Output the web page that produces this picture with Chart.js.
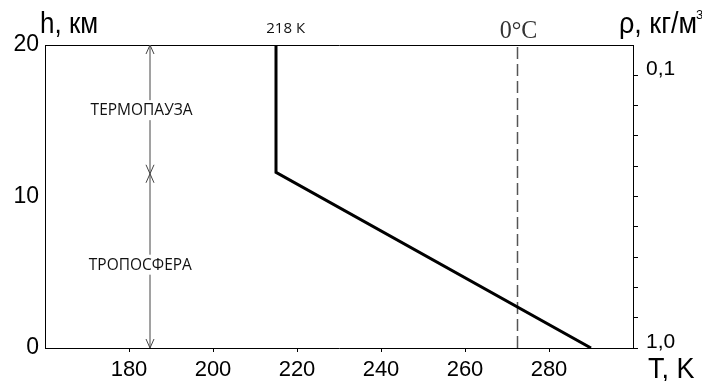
<!DOCTYPE html>
<html>
<head>
<meta charset="utf-8">
<script src="https://cdn.jsdelivr.net/npm/chart.js@4.4.0/dist/chart.umd.min.js"></script>
<style>
  html, body { margin: 0; padding: 0; background: #fff; }
  #wrap { width: 702px; height: 381px; }
</style>
</head>
<body>
<div id="wrap"><canvas id="chart" width="702" height="381"></canvas></div>
<script>
// temperature profile
const tempK = [290, 215, 215];
const tempKm = [0, 11.6, 20];
// 0 °C line
const freezeK = [272.5, 272.5];
const freezeKm = [0, 20];
// layer arrow
const layerK = [185, 185, 185];
const layerKm = [0, 11.5, 20];
const layerNames = ['ТРОПОСФЕРА', 'ТЕРМОПАУЗА'];
// ticks
const xTicks = [180, 200, 220, 240, 260, 280];
const hTicks = [0, 10, 20];
const rhoTickKm = [0, 2, 4, 6, 8, 10, 12, 14, 16, 18];
const rhoLabels = ['1,0', '', '', '', '', '', '', '', '', '0,1'];

const FONT = "'Liberation Sans', Arial, sans-serif";

function pts(xs, ys) {
  return xs.map((x, i) => ({ x: x, y: ys[i] }));
}

function arrowHead(ctx, x, y, dir) {
  // dir = -1 points up, 1 points down
  ctx.beginPath();
  ctx.moveTo(x - 4, y - dir * 9);
  ctx.lineTo(x, y);
  ctx.lineTo(x + 4, y - dir * 9);
  ctx.stroke();
}

// text a bit taller than wide, like the scanned figure
function tallText(ctx, txt, x, y, sy) {
  ctx.save();
  ctx.translate(x, y);
  ctx.scale(1, sy);
  ctx.fillText(txt, 0, 0);
  ctx.restore();
}

const extras = {
  id: 'extras',
  afterDatasetsDraw(chart) {
    const ctx = chart.ctx;
    const xs = chart.scales.x, ys = chart.scales.y;
    const a = chart.chartArea;
    ctx.save();

    // arrow heads on the layer line
    ctx.strokeStyle = '#444';
    ctx.lineWidth = 1;
    const ax = xs.getPixelForValue(layerK[0]);
    const y0 = ys.getPixelForValue(layerKm[0]);
    const y1 = ys.getPixelForValue(layerKm[1]);
    const y2 = ys.getPixelForValue(layerKm[2]);
    arrowHead(ctx, ax, y0, 1);
    arrowHead(ctx, ax, y1, -1);
    arrowHead(ctx, ax, y1, 1);
    arrowHead(ctx, ax, y2, -1);

    // layer names
    ctx.font = "15.5px 'Open Sans', sans-serif";
    ctx.textAlign = 'center';
    ctx.textBaseline = 'middle';
    const names = [
      { t: layerNames[0], T: 182.7, h: 5.5 },
      { t: layerNames[1], T: 183, h: 15.7 }
    ];
    names.forEach(n => {
      const px = xs.getPixelForValue(n.T), py = ys.getPixelForValue(n.h);
      const w = ctx.measureText(n.t).width;
      ctx.fillStyle = '#fff';
      ctx.fillRect(px - w / 2 - 2, py - 10, w + 4, 20);
      ctx.fillStyle = '#111';
      tallText(ctx, n.t, px, py, 1.1);
    });

    // 218 K label
    ctx.font = "15px 'Open Sans', sans-serif";
    ctx.textBaseline = 'alphabetic';
    ctx.fillText('218 К', xs.getPixelForValue(217.3), 33);

    // 0 °C label
    ctx.font = "24px 'Liberation Serif', serif";
    ctx.fillStyle = '#333';
    tallText(ctx, '0°C', xs.getPixelForValue(freezeK[0]) + 1, 38, 1.05);

    // axis titles
    ctx.fillStyle = '#000';
    ctx.textAlign = 'left';
    ctx.font = '26px ' + FONT;
    tallText(ctx, 'h, км', 40, 33, 1.1);
    ctx.font = '27px ' + FONT;
    tallText(ctx, 'T, K', a.right + 15, 378, 1.1);
    ctx.font = '27px ' + FONT;
    tallText(ctx, 'ρ, кг/м', a.right - 14, 33, 1.1);
    const w = ctx.measureText('ρ, кг/м').width;
    ctx.font = '13px ' + FONT;
    ctx.fillText('3', a.right - 15 + w, 19);
    ctx.restore();
  }
};

new Chart(document.getElementById('chart'), {
  type: 'scatter',
  data: {
    datasets: [
      {
        data: pts(tempK, tempKm),
        showLine: true,
        borderColor: '#000',
        borderWidth: 3,
        pointRadius: 0,
        tension: 0
      },
      {
        data: pts(freezeK, freezeKm),
        showLine: true,
        borderColor: '#555',
        borderWidth: 1.5,
        borderDash: [12, 5],
        pointRadius: 0
      },
      {
        data: pts(layerK, layerKm),
        showLine: true,
        borderColor: '#444',
        borderWidth: 1,
        pointRadius: 0
      }
    ]
  },
  options: {
    responsive: false,
    animation: false,
    layout: { padding: 0 },
    plugins: {
      legend: { display: false },
      tooltip: { enabled: false }
    },
    scales: {
      x: {
        type: 'linear',
        position: 'bottom',
        min: 160,
        max: 300,
        afterBuildTicks: s => { s.ticks = xTicks.map(v => ({ value: v })); },
        afterFit: s => { s.height = 33; },
        grid: { display: true, drawOnChartArea: false, drawTicks: true, tickLength: 4, color: '#000' },
        border: { display: true, color: '#000', width: 1 },
        ticks: { color: '#000', padding: 5, maxRotation: 0, font: { family: FONT, size: 22 } }
      },
      x2: {
        type: 'linear',
        position: 'top',
        min: 160,
        max: 300,
        afterFit: s => { s.height = 45; },
        grid: { display: false },
        border: { display: true, color: '#000', width: 1 },
        ticks: { display: false }
      },
      y: {
        type: 'linear',
        position: 'left',
        min: 0,
        max: 20,
        afterBuildTicks: s => { s.ticks = hTicks.map(v => ({ value: v })); },
        afterFit: s => { s.width = 45; },
        grid: { display: false, drawTicks: false },
        border: { display: true, color: '#000', width: 1 },
        ticks: { color: '#000', padding: 6, font: { family: FONT, size: 23 } }
      },
      y2: {
        type: 'linear',
        position: 'right',
        min: 0,
        max: 20,
        afterBuildTicks: s => { s.ticks = rhoTickKm.map(v => ({ value: v })); },
        afterFit: s => { s.width = 69; },
        grid: { display: true, drawOnChartArea: false, drawTicks: true, tickLength: 5, color: '#000' },
        border: { display: true, color: '#000', width: 1 },
        ticks: {
          color: '#000',
          padding: 8,
          labelOffset: -6,
          font: { family: FONT, size: 21 },
          callback: (v) => rhoLabels[rhoTickKm.indexOf(v)]
        }
      }
    }
  },
  plugins: [extras]
});
</script>
</body>
</html>
